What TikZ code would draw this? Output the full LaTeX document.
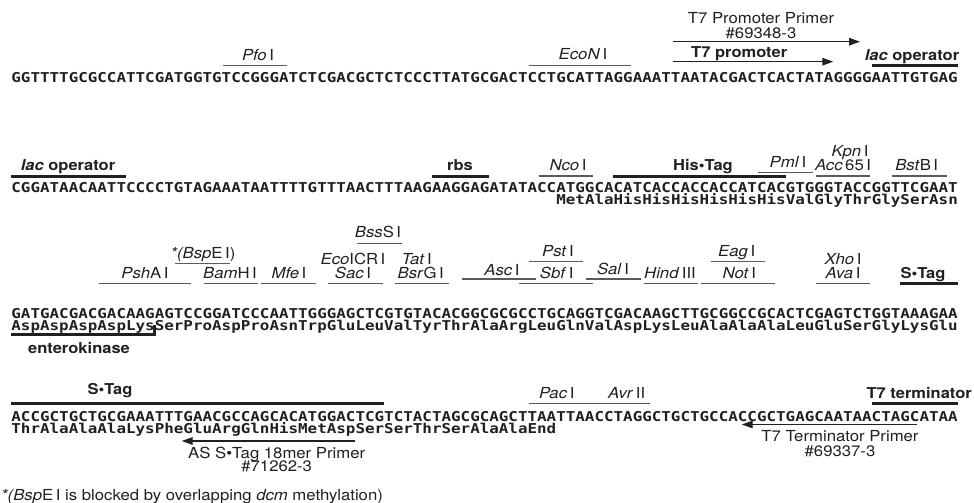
\documentclass[tikz,border=0pt]{standalone}
\usepackage{fontspec}
\usetikzlibrary{arrows.meta}
\setmainfont{TeX Gyre Heros}[FakeStretch=1.1]
\newfontfamily\seqfont{DejaVu Sans Mono}[FakeStretch=1.1676]
\definecolor{ink}{RGB}{35,31,32}
\definecolor{bargray}{RGB}{90,90,90}
\newcommand\cs{11.2}
\newcommand\cp{9.56}
% thin site bar from char #2 to char #3 at height #4
\newcommand\sitebar[4][thinbar]{\draw[#1] ({\cs+(#2-1)*\cp+1.5},#4) -- ({\cs+#3*\cp-1.5},#4);}
\newcommand\tagbar[3]{\draw[thickbar] ({\cs+(#1-1)*\cp},#3) -- ({\cs+#2*\cp},#3);}
\newcommand\enz[2]{\textit{#1}\,#2}
\begin{document}
\begin{tikzpicture}[x=1pt,y=-1pt,
  lbl/.style={inner sep=0pt, anchor=base, text=ink, font=\fontsize{15.2}{15.2}\selectfont},
  blbl/.style={lbl, font=\fontsize{15}{15}\selectfont\bfseries},
  seq/.style={inner sep=0pt, anchor=base west, text=ink, font=\seqfont\bfseries\fontsize{13.6}{13.6}\selectfont},
  thinbar/.style={draw=bargray, line width=1.4pt},
  thickbar/.style={draw=ink, line width=3pt},
  primer/.style={draw=ink, line width=1.3pt, -{Triangle[length=11pt,width=7.5pt]}}]
\useasboundingbox (0,0) rectangle (974,503);

% ---------- sequences ----------
\node[seq] (s1) at (\cs,82) {GGTTTTGCGCCATTCGATGGTGTCCGGGATCTCGACGCTCTCCCTTATGCGACTCCTGCATTAGGAAATTAATACGACTCACTATAGGGGAATTGTGAG};
\node[seq] (s2) at (\cs,192.5) {CGGATAACAATTCCCCTGTAGAAATAATTTTGTTTAACTTTAAGAAGGAGATATACCATGGCACATCACCACCACCATCACGTGGGTACCGGTTCGAAT};
\node[seq] (p2) at ({\cs+57*\cp},204.5) {MetAlaHisHisHisHisHisHisValGlyThrGlySerAsn};
\node[seq] (s3) at (\cs,318.5) {GATGACGACGACAAGAGTCCGGATCCCAATTGGGAGCTCGTGTACACGGCGCGCCTGCAGGTCGACAAGCTTGCGGCCGCACTCGAGTCTGGTAAAGAA};
\node[seq] (p3) at (\cs,330.5) {AspAspAspAspLysSerProAspProAsnTrpGluLeuValTyrThrAlaArgLeuGlnValAspLysLeuAlaAlaAlaLeuGluSerGlyLysGlu};
\node[seq] (s4) at (\cs,421.5) {ACCGCTGCTGCGAAATTTGAACGCCAGCACATGGACTCGTCTACTAGCGCAGCTTAATTAACCTAGGCTGCTGCCACCGCTGAGCAATAACTAGCATAA};
\node[seq] (p4) at (\cs,433.5) {ThrAlaAlaAlaLysPheGluArgGlnHisMetAspSerSerThrSerAlaAlaEnd};

% ---------- line 1 ----------
\node[lbl] (t7pp) at (761,23.5) {T7 Promoter Primer};
\node[lbl] (t7ppn) at (761,38.5) {\#69348-3};
\coordinate (t7ppA) at (672.7,41.7);
\coordinate (t7ppB) at (860,41.7);
\draw[primer] (t7ppA) -- (t7ppB);
\node[blbl, anchor=base west] (t7p) at (691,57) {T7 promoter};
\coordinate (t7pA) at (672.7,61.7);
\coordinate (t7pB) at (833.3,61.7);
\draw[primer] (t7pA) -- (t7pB);
\node[lbl] (pfo) at (258,60) {\enz{Pfo}{I}};
\sitebar{23}{29}{65.5}
\node[lbl] (econ) at (583,59.5) {\enz{EcoN}{I}};
\sitebar{55}{65}{65.5}
\node[blbl] (lac1) at (912,60) {\textit{lac} operator};
\tagbar{91}{99}{65.5}

% ---------- line 2 ----------
\node[blbl] (lac2) at (68,170.5) {\textit{lac} operator};
\tagbar{1}{12}{176}
\node[blbl] (rbs) at (460,170.5) {rbs};
\tagbar{45}{50}{176}
\node[lbl] (nco) at (568,170.5) {\enz{Nco}{I}};
\sitebar{56}{61}{176}
\node[blbl] (his) at (703,170.5) {His•Tag};
\tagbar{64}{81}{176}
\node[lbl] (pml) at (788,167) {\enz{Pml}{I}};
\sitebar{79}{84}{172.3}
\node[lbl] (kpn) at (850,156.5) {\enz{Kpn}{I}};
\node[lbl] (acc) at (843,170.5) {\textit{Acc}\,65\,I};
\sitebar{85}{90}{176}
\node[lbl] (bstb) at (916.7,170.5) {\textit{Bst}B\,I};
\sitebar{93}{98}{176}

% ---------- line 3 ----------
\node[lbl] (bsss) at (378,237.5) {\textit{Bss}S\,I};
\sitebar{37}{41}{243.3}
\node[lbl] (bspe) at (203,258) {\textit{*(Bsp}E\,I)};
\sitebar{18}{23}{263.3}
\node[lbl] (psha) at (145,278) {\textit{Psh}A\,I};
\sitebar{10}{19}{283.3}
\node[lbl] (bamh) at (230,278) {\textit{Bam}H\,I};
\sitebar{21}{26}{283.3}
\node[lbl] (mfe) at (289,278) {\enz{Mfe}{I}};
\sitebar{27}{32}{283.3}
\node[lbl] (ecoicr) at (353,264.5) {\textit{Eco}ICR\,I};
\node[lbl] (sac) at (353,278) {\enz{Sac}{I}};
\sitebar{34}{39}{283.3}
\node[lbl] (tat) at (416.7,264.5) {\enz{Tat}{I}};
\node[lbl] (bsrg) at (420.7,278) {\textit{Bsr}G\,I};
\sitebar{41}{46}{283.3}
\node[lbl] (asc) at (502,275) {\enz{Asc}{I}};
\sitebar{48}{55}{279}
\node[lbl] (pst) at (558,256.5) {\enz{Pst}{I}};
\sitebar{55}{60}{261.7}
\node[lbl] (sbf) at (556.7,278) {\enz{Sbf}{I}};
\sitebar{54}{61}{283.3}
\node[lbl] (sal) at (613,274.5) {\enz{Sal}{I}};
\sitebar{61}{66}{279}
\node[lbl] (hind) at (670,278) {\enz{Hind}{III}};
\sitebar{67}{72}{283.3}
\node[lbl] (eag) at (736.7,256.5) {\enz{Eag}{I}};
\sitebar{74}{79}{261.7}
\node[lbl] (not) at (739.3,278) {\enz{Not}{I}};
\sitebar{73}{80}{283.3}
\node[lbl] (xho) at (843,264.5) {\enz{Xho}{I}};
\node[lbl] (ava) at (843,278) {\enz{Ava}{I}};
\sitebar{85}{90}{283.3}
\node[blbl] (stag1) at (923,278) {S•Tag};
\tagbar{94}{99}{283.3}
\node[blbl] (ek) at (79,353.5) {enterokinase};
\draw[thickbar] ({\cs},334.3) -- ({\cs+15*\cp},334.3) -- ({\cs+15*\cp},324.5);

% ---------- line 4 ----------
\node[blbl] (stag2) at (110,394) {S•Tag};
\tagbar{1}{39}{403.3}
\node[lbl] (pac) at (556.7,398) {\enz{Pac}{I}};
\sitebar{55}{62}{403.3}
\node[lbl] (avr) at (626.7,398) {\enz{Avr}{II}};
\sitebar{62}{67}{403.3}
\node[blbl, anchor=base east] (t7t) at (972,398.5) {T7 terminator};
\tagbar{91}{99}{403.3}
\coordinate (t7tpA) at (916.7,424.5);
\coordinate (t7tpB) at (741.7,424.5);
\draw[primer] (t7tpA) -- (t7tpB);
\node[lbl] (t7tp) at (840,441.7) {T7 Terminator Primer};
\node[lbl] (t7tpn) at (840,456.7) {\#69337-3};
\coordinate (aspA) at (355,441);
\coordinate (aspB) at (181.7,441);
\draw[primer] (aspA) -- (aspB);
\node[lbl] (asp) at (276.7,458) {AS S•Tag 18mer Primer};
\node[lbl] (aspn) at (276.7,471.7) {\#71262-3};
\node[lbl, anchor=base west] (foot) at (1,500) {\textit{*(Bsp}E\,I is blocked by overlapping \textit{dcm} methylation)};
\end{tikzpicture}
\end{document}
